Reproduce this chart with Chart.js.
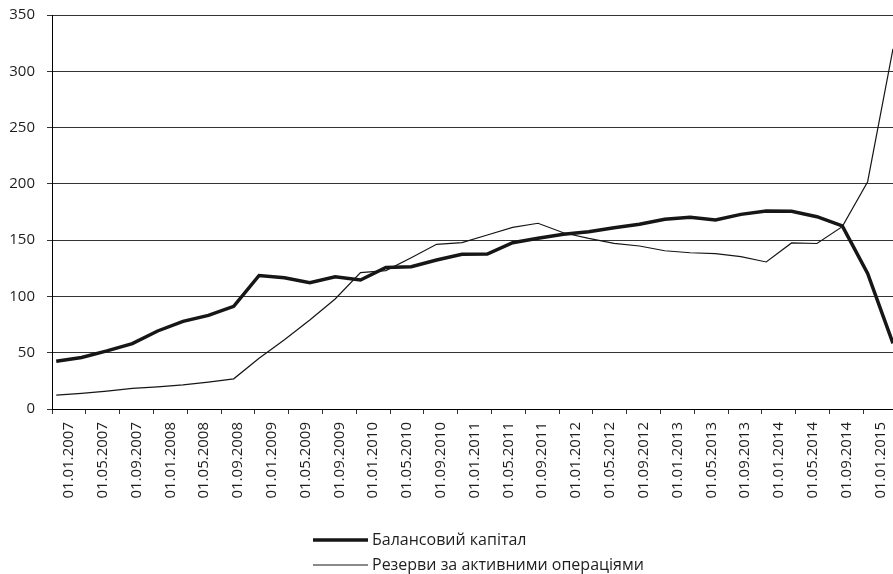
<!DOCTYPE html>
<html>
<head>
<meta charset="utf-8">
<script src="https://cdn.jsdelivr.net/npm/chart.js@4/dist/chart.umd.min.js"></script>
<style>
  html, body { margin: 0; padding: 0; background: #fff; }
  #wrap { width: 893px; height: 574px; }
</style>
</head>
<body>
<div id="wrap"><canvas id="chart"></canvas></div>
<script>
// quarterly observation dates
const dates = [
    '01.01.2007', '01.04.2007', '01.07.2007', '01.10.2007',
    '01.01.2008', '01.04.2008', '01.07.2008', '01.10.2008',
    '01.01.2009', '01.04.2009', '01.07.2009', '01.10.2009',
    '01.01.2010', '01.04.2010', '01.07.2010', '01.10.2010',
    '01.01.2011', '01.04.2011', '01.07.2011', '01.10.2011',
    '01.01.2012', '01.04.2012', '01.07.2012', '01.10.2012',
    '01.01.2013', '01.04.2013', '01.07.2013', '01.10.2013',
    '01.01.2014', '01.04.2014', '01.07.2014', '01.10.2014',
    '01.01.2015', '01.04.2015'
];

const capital = [
    42.5, 45.7, 51.6, 58.1, 69.3, 77.9, 83.2, 91.2,
    118.6, 116.6, 112.2, 117.5, 114.6, 125.8, 126.4, 132.4,
    137.4, 137.7, 147.7, 151.6, 155.2, 157.5, 161.1, 164.1,
    168.5, 170.3, 167.9, 172.9, 175.9, 175.6, 170.8, 162.6,
    120.5, 58.3
];

const reserves = [
    12.4, 13.9, 15.9, 18.3, 19.7, 21.5, 23.9, 26.8,
    45.0, 61.6, 79.0, 97.7, 121.1, 123.0, 134.4, 146.3,
    147.8, 154.6, 161.4, 165.0, 156.6, 151.6, 147.2, 144.8,
    140.6, 138.8, 138.0, 135.3, 130.6, 147.5, 147.0, 162.0,
    201.9, 320.0
];

const tickLabels = [
    '01.01.2007', '01.05.2007', '01.09.2007', '01.01.2008', '01.05.2008',
    '01.09.2008', '01.01.2009', '01.05.2009', '01.09.2009', '01.01.2010',
    '01.05.2010', '01.09.2010', '01.01.2011', '01.05.2011', '01.09.2011',
    '01.01.2012', '01.05.2012', '01.09.2012', '01.01.2013', '01.05.2013',
    '01.09.2013', '01.01.2014', '01.05.2014', '01.09.2014', '01.01.2015'
];

const seriesNames = ['Балансовий капітал', 'Резерви за активними операціями'];

// months since 01.01.2007
function monthIndex(d) {
    const p = d.split('.');
    return (parseInt(p[2], 10) - 2007) * 12 + (parseInt(p[1], 10) - 1);
}

function toPoints(values) {
    return values.map((v, i) => ({ x: monthIndex(dates[i]), y: v }));
}

const textColor = '#1e1e1e';
const lineColor = '#161616';
const gridColor = '#333333';
const fontFamily = "'Open Sans', sans-serif";

// legend drawn as a left-aligned column under the axis
const columnLegend = {
    id: 'columnLegend',
    afterDraw(chart) {
        const ctx = chart.ctx;
        const x0 = 313, y0 = 540, rowGap = 25, sample = 55;
        ctx.save();
        ctx.font = '16px ' + fontFamily;
        ctx.textBaseline = 'middle';
        ctx.textAlign = 'left';
        chart.data.datasets.forEach((ds, i) => {
            const y = y0 + i * rowGap;
            ctx.beginPath();
            ctx.strokeStyle = ds.borderColor;
            ctx.lineWidth = ds.borderWidth;
            ctx.moveTo(x0, y);
            ctx.lineTo(x0 + sample, y);
            ctx.stroke();
            ctx.fillStyle = textColor;
            ctx.fillText(ds.label, x0 + sample + 4, y);
        });
        ctx.restore();
    }
};

const ctx = document.getElementById('chart').getContext('2d');
new Chart(ctx, {
    type: 'line',
    data: {
        datasets: [
            { label: seriesNames[0], data: toPoints(capital), borderColor: lineColor, borderWidth: 3.5, pointRadius: 0, tension: 0 },
            { label: seriesNames[1], data: toPoints(reserves), borderColor: lineColor, borderWidth: 1.2, pointRadius: 0, tension: 0 }
        ]
    },
    options: {
        responsive: true,
        maintainAspectRatio: false,
        animation: false,
        layout: { padding: { top: 15, right: 0, bottom: 65, left: 0 } },
        plugins: {
            legend: { display: false },
            tooltip: { enabled: false }
        },
        scales: {
            x: {
                type: 'linear',
                min: -0.5,
                max: 99,
                afterBuildTicks: s => { s.ticks = tickLabels.map((t, k) => ({ value: 1.5 + 4 * k })); },
                afterFit: s => { s.height = 100; s.paddingLeft = 0; s.paddingRight = 0; },
                grid: { offset: true, drawOnChartArea: false, drawTicks: true, tickLength: 5, color: gridColor },
                border: { display: true, color: '#000' },
                ticks: {
                    autoSkip: false,
                    maxRotation: 90,
                    minRotation: 90,
                    padding: 8,
                    color: textColor,
                    font: { family: fontFamily, size: 15 },
                    callback: (value, index) => tickLabels[index]
                }
            },
            y: {
                min: 0,
                max: 350,
                afterFit: s => { s.width = 52; s.paddingTop = 0; s.paddingBottom = 0; },
                grid: { color: gridColor, drawTicks: true, tickLength: 5 },
                border: { display: true, color: '#000' },
                ticks: {
                    stepSize: 50,
                    padding: 12,
                    color: textColor,
                    font: { family: fontFamily, size: 15 }
                }
            }
        }
    },
    plugins: [columnLegend]
});
</script>
</body>
</html>
